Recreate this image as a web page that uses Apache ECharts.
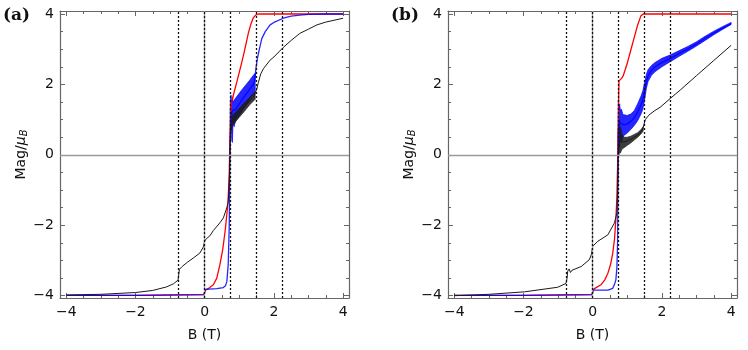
<!DOCTYPE html>
<html>
<head>
<meta charset="utf-8">
<script src="https://cdn.jsdelivr.net/npm/echarts@6/dist/echarts.min.js"></script>
<style>
  html, body { margin: 0; padding: 0; background: #fff; }
  #chart { width: 748px; height: 350px; }
</style>
</head>
<body>
<div id="chart"></div>
<script>
// ---- axis ticks ----
const xMajor = [-4, -2, 0, 2, 4];
const xMinor = [-4, -3.5, -3, -2.5, -2, -1.5, -1, -0.5, 0, 0.5, 1, 1.5, 2, 2.5, 3, 3.5, 4];
const yMajor = [-4, -2, 0, 2, 4];
const yMinor = [-4, -3.5, -3, -2.5, -2, -1.5, -1, -0.5, 0, 0.5, 1, 1.5, 2, 2.5, 3, 3.5, 4];
const guideX = [-0.75, 0, 0.75, 1.5, 2.25];

// ---- panel (a) ----
const aRedX = [-4, -2, -0.02, 0, 0.02, 0.1, 0.25, 0.35, 0.44, 0.52, 0.59, 0.65, 0.68, 0.71, 0.73, 0.76, 0.83, 0.95, 1.07, 1.15, 1.26, 1.33, 1.4, 1.47, 1.55, 4.0];
const aRedY = [-3.99, -3.99, -3.97, -3.9, -3.84, -3.8, -3.69, -3.5, -3.12, -2.7, -2.17, -1.6, -1.22, -0.5, 0.5, 1.4, 1.7, 2.15, 2.62, 2.95, 3.45, 3.7, 3.88, 3.97, 4.0, 4.0];

const aBlueX = [-4, -2, -0.02, 0, 0.02, 0.06, 0.35, 0.54, 0.6, 0.64, 0.68, 0.71, 0.73, 0.76, 0.8, 0.9, 1.0, 1.1, 1.2, 1.3, 1.4, 1.45, 1.48, 1.52, 1.58, 1.65, 1.75, 1.89, 2.0, 2.27, 2.5, 2.75, 3.0, 3.5, 4.0];
const aBlueY = [-3.99, -3.99, -3.97, -3.9, -3.82, -3.81, -3.8, -3.77, -3.72, -3.6, -3.12, -2.0, 0.0, 1.1, 1.25, 1.3, 1.45, 1.6, 1.73, 1.86, 2.0, 2.1, 2.45, 2.72, 3.0, 3.3, 3.5, 3.69, 3.76, 3.88, 3.94, 3.97, 3.99, 4.0, 4.0];
const aBlueBandX = [0.74, 0.76, 0.78, 0.8, 0.82, 0.85, 0.9, 1.0, 1.1, 1.2, 1.3, 1.4, 1.46];
const aBlueBandLo = [0.9, 0.4, 1.0, 0.35, 0.95, 0.8, 1.0, 1.12, 1.27, 1.42, 1.57, 1.72, 1.8];
const aBlueBandHi = [1.55, 1.7, 1.45, 1.65, 1.5, 1.55, 1.62, 1.75, 1.88, 2.0, 2.12, 2.25, 2.32];

const aBlackX = [-4, -3, -2, -1.5, -1.1, -0.9, -0.77, -0.75, -0.73, -0.7, -0.68, -0.65, -0.5, -0.33, -0.14, -0.04, 0, 0.05, 0.15, 0.25, 0.44, 0.54, 0.64, 0.68, 0.71, 0.73, 0.75, 0.8, 0.9, 1.0, 1.1, 1.2, 1.3, 1.4, 1.45, 1.5, 1.55, 1.62, 1.7, 1.89, 2.0, 2.27, 2.5, 2.75, 3.0, 3.24, 3.5, 4.0];
const aBlackY = [-3.98, -3.96, -3.91, -3.85, -3.75, -3.66, -3.56, -3.4, -3.25, -3.22, -3.24, -3.17, -3.05, -2.93, -2.79, -2.62, -2.45, -2.38, -2.3, -2.15, -1.93, -1.79, -1.5, -1.35, -0.8, 0.0, 0.9, 0.95, 1.1, 1.2, 1.3, 1.42, 1.53, 1.63, 1.68, 1.85, 2.05, 2.3, 2.45, 2.69, 2.78, 3.05, 3.25, 3.45, 3.57, 3.69, 3.77, 3.88];
const aBlackBandX = [0.74, 0.77, 0.8, 0.9, 1.0, 1.1, 1.2, 1.3, 1.4, 1.46];
const aBlackBandLo = [0.6, 0.7, 0.82, 0.95, 1.07, 1.18, 1.3, 1.42, 1.52, 1.58];
const aBlackBandHi = [1.3, 1.2, 1.12, 1.22, 1.32, 1.43, 1.53, 1.63, 1.74, 1.78];

// ---- panel (b) ----
const bRedX = [-4, -2, -0.02, 0, 0.02, 0.1, 0.24, 0.35, 0.44, 0.52, 0.58, 0.63, 0.67, 0.7, 0.72, 0.74, 0.76, 0.8, 0.84, 0.88, 1.0, 1.1, 1.2, 1.3, 1.39, 1.46, 4.0];
const bRedY = [-3.99, -3.99, -3.97, -3.9, -3.82, -3.77, -3.69, -3.55, -3.36, -3.1, -2.79, -2.4, -1.84, -1.2, -0.3, 1.0, 2.1, 2.12, 2.18, 2.24, 2.6, 2.97, 3.33, 3.69, 3.94, 4.0, 4.0];

const bBlueX = [-4, -2, -0.02, 0, 0.02, 0.1, 0.44, 0.58, 0.64, 0.67, 0.7, 0.72, 0.73, 0.74, 0.76, 0.8, 0.9, 1.0, 1.1, 1.2, 1.3, 1.4, 1.45, 1.5, 1.55, 1.6, 1.7, 1.8, 2.0, 2.25, 2.5, 2.75, 3.0, 3.25, 3.5, 3.75, 4.0];
const bBlueY = [-3.99, -3.99, -3.97, -3.9, -3.84, -3.84, -3.84, -3.79, -3.65, -3.55, -3.2, -2.5, -1.0, 0.5, 1.0, 0.9, 0.85, 0.88, 0.95, 1.05, 1.22, 1.43, 1.58, 1.8, 2.08, 2.25, 2.4, 2.5, 2.62, 2.74, 2.88, 3.01, 3.15, 3.31, 3.46, 3.6, 3.73];
const bBlueBandX = [0.74, 0.76, 0.78, 0.8, 0.83, 0.87, 0.9, 1.0, 1.1, 1.2, 1.3, 1.4, 1.45, 1.5, 1.55, 1.6, 1.7, 1.8, 2.0, 2.25, 2.5, 2.75, 3.0, 3.25, 3.5, 3.75, 4.0];
const bBlueBandLo = [0.3, 0.5, 0.2, 0.55, 0.35, 0.5, 0.55, 0.62, 0.72, 0.83, 0.97, 1.17, 1.3, 1.55, 1.88, 2.08, 2.26, 2.36, 2.5, 2.65, 2.8, 2.94, 3.09, 3.25, 3.41, 3.56, 3.7];
const bBlueBandHi = [1.55, 1.3, 1.45, 1.25, 1.3, 1.15, 1.14, 1.12, 1.16, 1.25, 1.45, 1.68, 1.82, 2.05, 2.28, 2.42, 2.54, 2.62, 2.74, 2.84, 2.96, 3.08, 3.21, 3.37, 3.51, 3.64, 3.76];

const bBlackX = [-4, -3, -1.97, -1.01, -0.77, -0.74, -0.72, -0.68, -0.64, -0.6, -0.33, -0.1, -0.04, 0, 0.14, 0.44, 0.63, 0.7, 0.72, 0.74, 0.76, 0.8, 0.9, 1.0, 1.1, 1.2, 1.3, 1.4, 1.45, 1.52, 1.6, 1.66, 1.8, 1.95, 2.24, 2.53, 3.0, 3.5, 4.0];
const bBlackY = [-4.0, -3.96, -3.89, -3.76, -3.65, -3.5, -3.3, -3.24, -3.34, -3.28, -3.17, -2.98, -2.84, -2.6, -2.46, -2.27, -1.93, -1.65, -1.0, 0.0, 0.4, 0.38, 0.36, 0.4, 0.44, 0.5, 0.56, 0.66, 0.75, 1.0, 1.1, 1.16, 1.26, 1.35, 1.6, 1.84, 2.25, 2.68, 3.11];
const bBlackBandX = [0.74, 0.76, 0.78, 0.8, 0.84, 0.9, 1.0, 1.1, 1.2, 1.3, 1.4, 1.46];
const bBlackBandLo = [0.05, 0.0, 0.1, 0.05, 0.15, 0.2, 0.27, 0.34, 0.42, 0.5, 0.6, 0.68];
const bBlackBandHi = [0.75, 0.9, 0.7, 0.8, 0.6, 0.5, 0.5, 0.53, 0.58, 0.63, 0.72, 0.8];

// ---- style ----
const FONT = '"DejaVu Sans", sans-serif';
const FRAME = '#666';
const RED = '#ff0000';
const BLUE = '#0000ff';
const BLACK = '#1a1a1a';
const X_MIN = -4.18, X_MAX = 4.17;
const Y_MIN = -4.065, Y_MAX = 4.085;

const fmt = (v) => (v < 0 ? '\u2212' + Math.abs(v) : String(v));
const zip = (xs, ys) => xs.map((x, i) => [x, ys[i]]);

const chart = echarts.init(document.getElementById('chart'), null, { renderer: 'canvas' });

function makeAxes(grid, dim) {
  const isX = dim === 'x';
  const major = isX ? xMajor : yMajor;
  const minor = isX ? xMinor : yMinor;
  const pos = isX ? ['bottom', 'top'] : ['left', 'right'];
  const base = {
    type: 'value', gridIndex: grid,
    min: isX ? X_MIN : Y_MIN, max: isX ? X_MAX : Y_MAX,
    splitLine: { show: false },
    axisLine: { show: false, onZero: false },
    axisLabel: { show: false },
    axisTick: { show: false },
  };
  const line = { show: true, onZero: false, lineStyle: { color: FRAME, width: 1.2 } };
  const majTick = { show: true, inside: true, length: 5, customValues: major, lineStyle: { color: FRAME, width: 1 } };
  const minTick = { show: true, inside: true, length: 3, customValues: minor, lineStyle: { color: FRAME, width: 1 } };
  const main = {
    ...base, position: pos[0], axisLine: line, axisTick: majTick,
    axisLabel: {
      show: true, customValues: major, formatter: fmt,
      margin: isX ? 7 : 6, fontSize: 14, color: '#111', fontFamily: FONT,
    },
    nameLocation: 'middle',
  };
  if (isX) {
    main.name = 'B (T)';
    main.nameGap = 30;
    main.nameTextStyle = { fontSize: 14, color: '#111', fontFamily: FONT };
  } else {
    main.name = '{a|Mag/}{mu|\u03bc}{sub|B}';
    main.nameGap = 29;
    main.nameTextStyle = {
      fontSize: 14, color: '#111', fontFamily: FONT,
      rich: {
        a: { fontSize: 14, color: '#111', fontFamily: FONT },
        mu: { fontSize: 14, color: '#111', fontFamily: FONT, fontStyle: 'italic' },
        sub: { fontSize: 10, color: '#111', fontFamily: FONT, fontStyle: 'italic', verticalAlign: 'bottom', padding: [6, 0, 0, 0] },
      },
    };
  }
  return [
    main,
    { ...base, position: pos[0], axisTick: minTick },
    { ...base, position: pos[1], axisLine: line, axisTick: majTick },
    { ...base, position: pos[1], axisTick: minTick },
  ];
}

function lineSeries(ax, xs, ys, color, width, extra) {
  return Object.assign({
    type: 'line', xAxisIndex: ax, yAxisIndex: ax,
    data: zip(xs, ys), symbol: 'none', showSymbol: false,
    lineStyle: { color, width }, silent: true, animation: false,
  }, extra || {});
}

// noisy oscillation region: filled band between the lower and upper envelope
function bandSeries(ax, xs, lo, hi, color, opacity) {
  return {
    type: 'custom', xAxisIndex: ax, yAxisIndex: ax, silent: true, animation: false,
    data: xs.map((x, i) => [x, lo[i], hi[i]]),
    encode: { x: 0, y: [1, 2] },
    renderItem: (params, api) => {
      if (params.dataIndex !== 0) return null;
      const upper = xs.map((x, i) => api.coord([x, hi[i]]));
      const lower = xs.map((x, i) => api.coord([x, lo[i]])).reverse();
      return {
        type: 'polygon',
        shape: { points: upper.concat(lower) },
        style: { fill: color, stroke: color, lineWidth: 0.8, opacity },
      };
    },
  };
}

function guides() {
  return {
    symbol: 'none', silent: true, animation: false, label: { show: false },
    emphasis: { disabled: true },
    data: [
      { yAxis: 0, lineStyle: { color: '#9a9a9a', width: 1.3, type: 'solid' } },
      { xAxis: 0, lineStyle: { color: '#9a9a9a', width: 1.3, type: 'solid' } },
      ...guideX.map((v) => ({ xAxis: v, lineStyle: { color: '#111', width: 1.3, type: [2, 2] } })),
    ],
  };
}

function panel(ax, d) {
  return [
    lineSeries(ax, d.redX, d.redY, RED, 1.3, { markLine: guides() }),
    lineSeries(ax, d.blueX, d.blueY, BLUE, 1.3, { lineStyle: { color: BLUE, width: 1.3, opacity: 0.85 } }),
    bandSeries(ax, d.blueBandX, d.blueBandLo, d.blueBandHi, BLUE, 0.85),
    lineSeries(ax, d.blackX, d.blackY, BLACK, 1),
    bandSeries(ax, d.blackBandX, d.blackBandLo, d.blackBandHi, BLACK, 0.85),
  ];
}

const option = {
  animation: false,
  backgroundColor: '#fff',
  grid: [
    { left: 60, top: 11, width: 289, height: 287 },
    { left: 448, top: 11, width: 289, height: 287 },
  ],
  xAxis: [...makeAxes(0, 'x'), ...makeAxes(1, 'x')],
  yAxis: [...makeAxes(0, 'y'), ...makeAxes(1, 'y')],
  graphic: [
    { type: 'text', left: 3, top: 7, style: { text: '(a)', font: 'bold 17px "DejaVu Serif", serif', fill: '#111' } },
    { type: 'text', left: 391, top: 7, style: { text: '(b)', font: 'bold 17px "DejaVu Serif", serif', fill: '#111' } },
  ],
  series: [
    ...panel(0, {
      redX: aRedX, redY: aRedY, blueX: aBlueX, blueY: aBlueY,
      blueBandX: aBlueBandX, blueBandLo: aBlueBandLo, blueBandHi: aBlueBandHi,
      blackX: aBlackX, blackY: aBlackY,
      blackBandX: aBlackBandX, blackBandLo: aBlackBandLo, blackBandHi: aBlackBandHi,
    }),
    ...panel(4, {
      redX: bRedX, redY: bRedY, blueX: bBlueX, blueY: bBlueY,
      blueBandX: bBlueBandX, blueBandLo: bBlueBandLo, blueBandHi: bBlueBandHi,
      blackX: bBlackX, blackY: bBlackY,
      blackBandX: bBlackBandX, blackBandLo: bBlackBandLo, blackBandHi: bBlackBandHi,
    }),
  ],
};

chart.setOption(option);
</script>
</body>
</html>
